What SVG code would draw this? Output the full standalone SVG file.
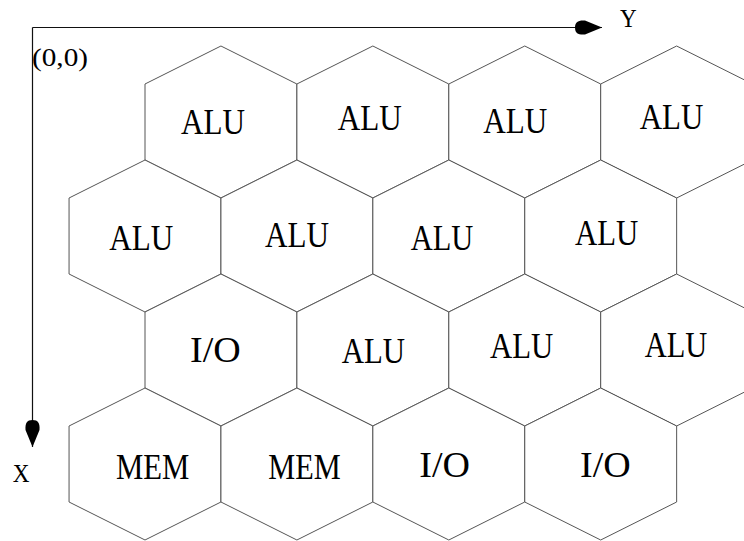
<svg xmlns="http://www.w3.org/2000/svg" xmlns:xlink="http://www.w3.org/1999/xlink" width="744" height="541" viewBox="0 0 744 541">
  <style>
    .cell { fill: #ffffff; stroke: #555555; stroke-width: 1; }
    .lbl { font-size: 36px; fill: #000000; }
    .axis { stroke: #111111; stroke-width: 1.2; fill: none; }
    .axlbl { font-size: 26px; fill: #000000; }
  </style>
  <defs>
    <!-- pointy-top hexagon centred on the origin -->
    <polygon id="hex" points="0,-76 75.95,-38 75.95,38 0,76 -75.95,38 -75.95,-38"/>
    <marker id="tip" markerUnits="userSpaceOnUse" markerWidth="30" markerHeight="18" viewBox="-28 -9 30 18" refX="0" refY="0" orient="auto">
      <path d="M0,0 L-17,-7 C-24,-7.5 -27,-5.5 -27,0 C-27,5.5 -24,7.5 -17,7 Z" fill="#000000"/>
    </marker>
  </defs>
  <rect width="744" height="541" fill="#ffffff"/>

  <g font-family="Liberation Serif, DejaVu Serif, serif">
  <!-- row 1 -->
  <g id="r1c1"><use xlink:href="#hex" class="cell" x="220.95" y="122"/><text class="lbl" x="181" y="134" textLength="64" lengthAdjust="spacingAndGlyphs">ALU</text></g>
  <g id="r1c2"><use xlink:href="#hex" class="cell" x="372.85" y="122"/><text class="lbl" x="337.7" y="130" textLength="64" lengthAdjust="spacingAndGlyphs">ALU</text></g>
  <g id="r1c3"><use xlink:href="#hex" class="cell" x="524.75" y="122"/><text class="lbl" x="483.3" y="133.3" textLength="64" lengthAdjust="spacingAndGlyphs">ALU</text></g>
  <g id="r1c4"><use xlink:href="#hex" class="cell" x="676.65" y="122"/><text class="lbl" x="639.7" y="129" textLength="63.6" lengthAdjust="spacingAndGlyphs">ALU</text></g>

  <!-- row 2 -->
  <g id="r2c1"><use xlink:href="#hex" class="cell" x="145" y="236"/><text class="lbl" x="109.3" y="250" textLength="64" lengthAdjust="spacingAndGlyphs">ALU</text></g>
  <g id="r2c2"><use xlink:href="#hex" class="cell" x="296.9" y="236"/><text class="lbl" x="265" y="246.7" textLength="64" lengthAdjust="spacingAndGlyphs">ALU</text></g>
  <g id="r2c3"><use xlink:href="#hex" class="cell" x="448.8" y="236"/><text class="lbl" x="410.7" y="250" textLength="62.6" lengthAdjust="spacingAndGlyphs">ALU</text></g>
  <g id="r2c4"><use xlink:href="#hex" class="cell" x="600.7" y="236"/><text class="lbl" x="575" y="245" textLength="63.3" lengthAdjust="spacingAndGlyphs">ALU</text></g>

  <!-- row 3 -->
  <g id="r3c1"><use xlink:href="#hex" class="cell" x="220.95" y="350"/><text class="lbl" x="190" y="362.3" textLength="50.7" lengthAdjust="spacingAndGlyphs">I/O</text></g>
  <g id="r3c2"><use xlink:href="#hex" class="cell" x="372.85" y="350"/><text class="lbl" x="341.7" y="363.3" textLength="63.3" lengthAdjust="spacingAndGlyphs">ALU</text></g>
  <g id="r3c3"><use xlink:href="#hex" class="cell" x="524.75" y="350"/><text class="lbl" x="490" y="358.3" textLength="63.3" lengthAdjust="spacingAndGlyphs">ALU</text></g>
  <g id="r3c4"><use xlink:href="#hex" class="cell" x="676.65" y="350"/><text class="lbl" x="644.7" y="356.7" textLength="62.6" lengthAdjust="spacingAndGlyphs">ALU</text></g>

  <!-- row 4 -->
  <g id="r4c1"><use xlink:href="#hex" class="cell" x="145" y="464"/><text class="lbl" x="116" y="479.3" textLength="73.3" lengthAdjust="spacingAndGlyphs">MEM</text></g>
  <g id="r4c2"><use xlink:href="#hex" class="cell" x="296.9" y="464"/><text class="lbl" x="268.3" y="479.3" textLength="72.4" lengthAdjust="spacingAndGlyphs">MEM</text></g>
  <g id="r4c3"><use xlink:href="#hex" class="cell" x="448.8" y="464"/><text class="lbl" x="419.3" y="476.7" textLength="50.7" lengthAdjust="spacingAndGlyphs">I/O</text></g>
  <g id="r4c4"><use xlink:href="#hex" class="cell" x="600.7" y="464"/><text class="lbl" x="580" y="477.3" textLength="50.7" lengthAdjust="spacingAndGlyphs">I/O</text></g>

  <!-- coordinate axes -->
  <g id="axes">
    <line class="axis" x1="32.5" y1="27.5" x2="602" y2="27.5" marker-end="url(#tip)"/>
    <line class="axis" x1="32.5" y1="27.5" x2="32.5" y2="447" marker-end="url(#tip)"/>
    <text class="axlbl" x="32" y="65.5" textLength="56" lengthAdjust="spacingAndGlyphs">(0,0)</text>
    <text class="axlbl" x="620" y="26.7" textLength="16.7" lengthAdjust="spacingAndGlyphs">Y</text>
    <text class="axlbl" x="12.7" y="482.3" textLength="16.7" lengthAdjust="spacingAndGlyphs">X</text>
  </g>
  </g>
</svg>
